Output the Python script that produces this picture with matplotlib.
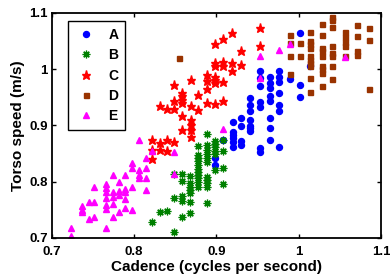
import matplotlib

matplotlib.use("Agg")
import matplotlib.pyplot as plt

# Cadence (cycles per second) and torso speed (m/s) for each group
a_cadence = [0.898, 0.898, 0.908,
             0.920, 0.920, 0.920, 0.920, 0.920, 0.920,
             0.930, 0.930, 0.930, 0.930,
             0.941, 0.941, 0.941, 0.941, 0.941, 0.941, 0.941,
             0.953, 0.953, 0.953, 0.953, 0.953, 0.953, 0.953,
             0.965, 0.965, 0.965, 0.965, 0.965, 0.965, 0.965, 0.965,
             0.976, 0.976, 0.976, 0.976, 0.976, 0.976, 0.976,
             0.989, 1.001, 1.001, 1.001, 1.014]
a_speed = [0.842, 0.830, 0.874,
           0.907, 0.889, 0.883, 0.877, 0.871, 0.861,
           0.913, 0.899, 0.873, 0.865,
           0.948, 0.936, 0.925, 0.910, 0.899, 0.895, 0.890,
           0.996, 0.984, 0.970, 0.942, 0.932, 0.859, 0.853,
           0.986, 0.975, 0.966, 0.953, 0.944, 0.913, 0.895, 0.874,
           0.996, 0.987, 0.978, 0.957, 0.936, 0.925, 0.862,
           0.982, 1.065, 0.972, 0.951, 1.006]

b_cadence = [0.822, 0.831, 0.840,
             0.849, 0.849, 0.849,
             0.858, 0.858, 0.858, 0.858, 0.858,
             0.868, 0.868, 0.868, 0.868, 0.868, 0.868, 0.868,
             0.878, 0.878, 0.878, 0.878, 0.878, 0.878, 0.878, 0.878, 0.878, 0.878, 0.878,
             0.888, 0.888, 0.888, 0.888, 0.888, 0.888, 0.888, 0.888, 0.888, 0.888, 0.888,
             0.898, 0.898, 0.898, 0.898, 0.898, 0.898,
             0.908, 0.908, 0.908, 0.908]
b_speed = [0.729, 0.746, 0.748,
           0.814, 0.771, 0.711,
           0.813, 0.801, 0.775, 0.766, 0.738,
           0.810, 0.797, 0.791, 0.785, 0.779, 0.763, 0.744,
           0.864, 0.848, 0.842, 0.836, 0.830, 0.823, 0.818, 0.812, 0.806, 0.799, 0.791,
           0.885, 0.866, 0.856, 0.849, 0.842, 0.835, 0.809, 0.803, 0.797, 0.791, 0.762,
           0.872, 0.867, 0.861, 0.855, 0.850, 0.821,
           0.874, 0.855, 0.824, 0.796]

c_cadence = [0.822, 0.822, 0.822,
             0.831, 0.831, 0.831,
             0.840, 0.840, 0.840,
             0.849, 0.849, 0.849, 0.849,
             0.858, 0.858, 0.858, 0.858, 0.858, 0.858,
             0.869, 0.869, 0.869, 0.869, 0.869, 0.869,
             0.878, 0.878,
             0.888, 0.888, 0.888, 0.888,
             0.898, 0.898, 0.898, 0.898, 0.898, 0.898, 0.898,
             0.908, 0.908, 0.908, 0.908, 0.908,
             0.919, 0.919, 0.919,
             0.930, 0.930,
             0.953, 0.953]
c_speed = [0.874, 0.857, 0.840,
           0.935, 0.868, 0.857,
           0.929, 0.874, 0.855,
           0.972, 0.943, 0.930, 0.870,
           0.958, 0.952, 0.946, 0.940, 0.917, 0.892,
           0.980, 0.934, 0.909, 0.901, 0.892, 0.880,
           0.955, 0.928,
           0.990, 0.979, 0.964, 0.940,
           1.044, 1.011, 1.005, 0.987, 0.981, 0.976, 0.938,
           1.054, 1.012, 1.005, 0.977, 0.943,
           1.064, 1.011, 0.996,
           1.032, 1.007,
           1.073, 1.042]

d_cadence = [0.854,
             0.989, 0.989, 0.989, 0.989,
             1.001, 1.001,
             1.014, 1.014, 1.014, 1.014, 1.014, 1.014, 1.014, 1.014, 1.014, 1.014,
             1.028, 1.028, 1.028, 1.028, 1.028, 1.028, 1.028, 1.028, 1.028,
             1.041, 1.041, 1.041, 1.041, 1.041, 1.041, 1.041, 1.041,
             1.056, 1.056, 1.056, 1.056, 1.056,
             1.071, 1.071, 1.071, 1.071,
             1.085, 1.085, 1.085]
d_speed = [1.020,
           1.060, 1.047, 1.024, 0.992,
           1.047, 1.024,
           1.066, 1.050, 1.044, 1.038, 1.023, 1.017, 1.011, 1.005, 0.984, 0.959,
           1.080, 1.060, 1.038, 1.032, 1.023, 1.006, 1.000, 0.993, 0.970,
           1.093, 1.087, 1.075, 1.042, 1.028, 1.023, 1.006, 0.983,
           1.067, 1.057, 1.048, 1.042, 1.023,
           1.079, 1.059, 1.032, 1.026,
           1.073, 1.052, 0.965]

e_cadence = [0.723, 0.723,
             0.737, 0.737, 0.737,
             0.745, 0.745,
             0.751, 0.751, 0.751,
             0.766, 0.766, 0.766, 0.766, 0.766, 0.766, 0.766,
             0.774, 0.774, 0.774, 0.774, 0.774,
             0.781, 0.781, 0.781, 0.781,
             0.789, 0.789, 0.789, 0.789, 0.789,
             0.797, 0.797, 0.797, 0.797,
             0.806, 0.806, 0.806, 0.806,
             0.814, 0.814, 0.814, 0.814,
             0.822,
             0.849, 0.849,
             0.908,
             0.953, 0.953,
             0.976, 0.989, 1.056]
e_speed = [0.717, 0.704,
           0.756, 0.750, 0.746,
           0.763, 0.734,
           0.790, 0.763, 0.737,
           0.795, 0.788, 0.782, 0.771, 0.759, 0.752, 0.718,
           0.812, 0.781, 0.772, 0.760, 0.738,
           0.799, 0.783, 0.776, 0.746,
           0.812, 0.787, 0.782, 0.769, 0.753,
           0.833, 0.825, 0.791, 0.750,
           0.874, 0.821, 0.811, 0.806,
           0.842, 0.825, 0.807, 0.785,
           0.855,
           0.853, 0.813,
           0.894,
           1.024, 0.984,
           1.034, 1.045, 1.022]

group_labels = ["A", "B", "C", "D", "E"]
tick_values = [0.7, 0.8, 0.9, 1.0, 1.1]
tick_labels = ["0.7", "0.8", "0.9", "1", "1.1"]


def build_figure() -> plt.Figure:
    plt.rcParams["font.family"] = ["Liberation Sans", "DejaVu Sans"]
    plt.rcParams["font.weight"] = "bold"

    fig = plt.figure(figsize=(3.9, 2.76), dpi=100)
    ax = fig.add_axes([0.133, 0.138, 0.844, 0.815])

    # marker styles mimic the MATLAB look: dot, asterisk, pentagram, square, triangle
    styles = [
        dict(marker="o", color="#0000ff", markersize=4.3),
        dict(marker=(8, 2, 0), color="#008000", markersize=5.5, markeredgewidth=0.9),
        dict(marker="*", color="#ff0000", markersize=6.5),
        dict(marker="s", color="#993300", markersize=3.6),
        dict(marker="^", color="#ff00ff", markersize=4.6),
    ]
    series = [
        (a_cadence, a_speed),
        (b_cadence, b_speed),
        (c_cadence, c_speed),
        (d_cadence, d_speed),
        (e_cadence, e_speed),
    ]
    for (xs, ys), label, style in zip(series, group_labels, styles):
        ax.plot(xs, ys, linestyle="none", label=label, **style)

    ax.set_xlim(0.7, 1.1)
    ax.set_ylim(0.7, 1.1)
    ax.set_xticks(tick_values)
    ax.set_xticklabels(tick_labels)
    ax.set_yticks(tick_values)
    ax.set_yticklabels(tick_labels)
    ax.tick_params(direction="in", length=3, width=1, labelsize=9.5,
                   top=True, right=True)
    ax.tick_params(axis="x", pad=6)
    ax.tick_params(axis="y", pad=3)
    for spine in ax.spines.values():
        spine.set_linewidth(1.3)

    ax.set_xlabel("Cadence (cycles per second)", fontsize=11, fontweight="bold", labelpad=1)
    ax.set_ylabel("Torso speed (m/s)", fontsize=11, fontweight="bold", labelpad=3)

    leg = ax.legend(loc="upper left", bbox_to_anchor=(0.049, 0.964), fancybox=False,
                    edgecolor="black", framealpha=1, borderpad=0.5, labelspacing=0.45,
                    handlelength=1.6, handletextpad=0.8, borderaxespad=0,
                    prop=dict(size=10, weight="bold"))
    leg.get_frame().set_linewidth(1.0)
    return fig


def main() -> None:
    fig = build_figure()
    fig.savefig("out.png", dpi=100)
    plt.close(fig)


if __name__ == "__main__":
    main()
